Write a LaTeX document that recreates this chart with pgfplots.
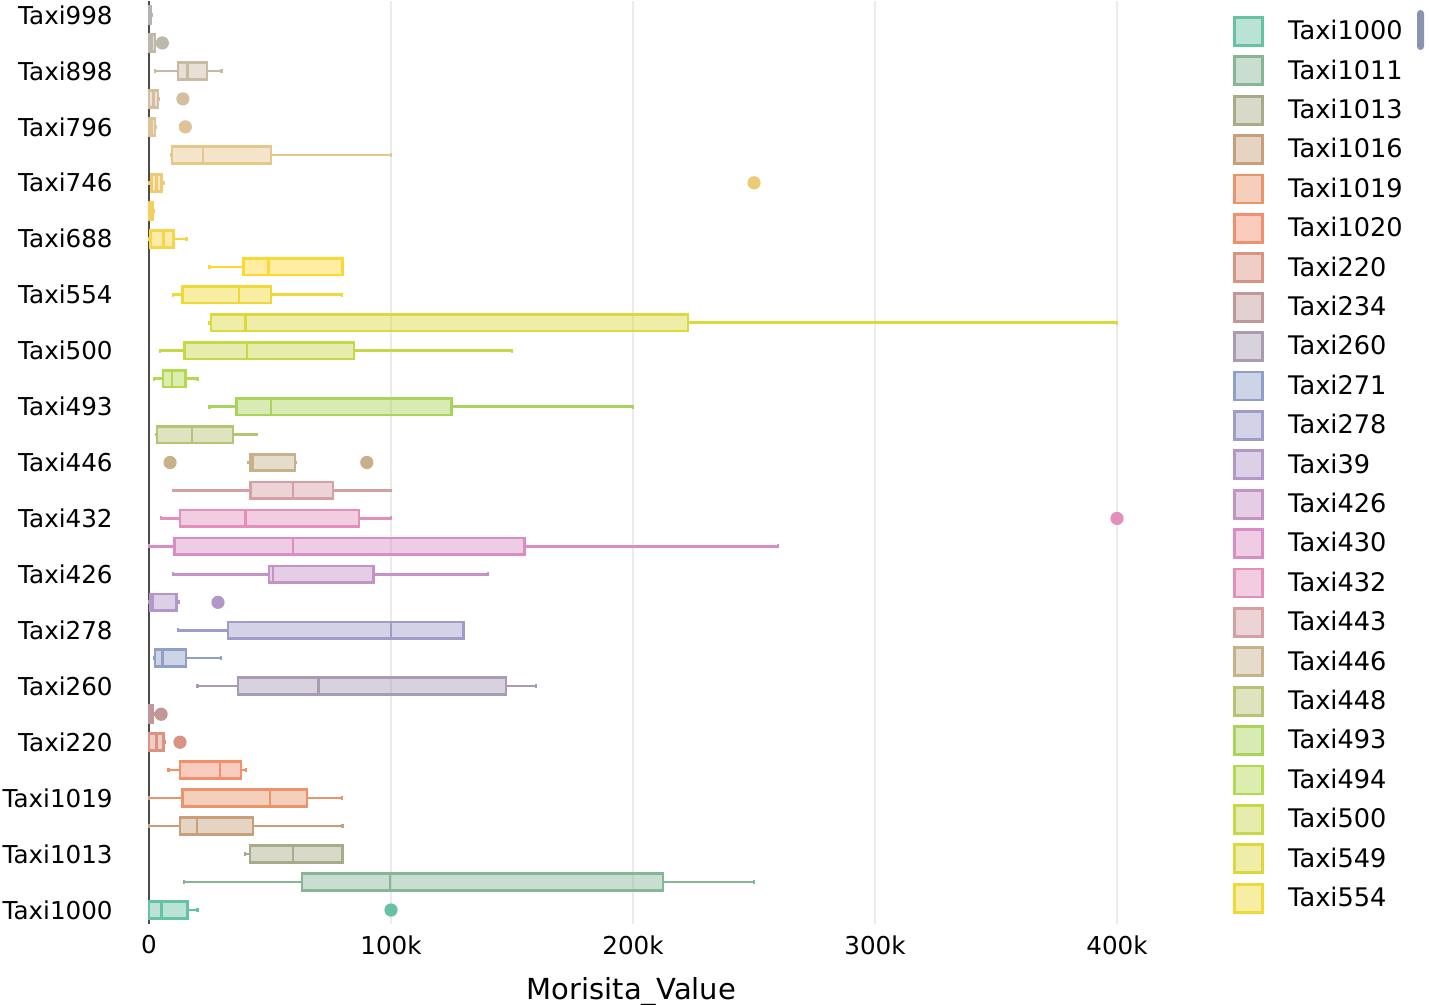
\documentclass[border=0pt]{standalone}
\usepackage{fontspec}
\setmainfont{DejaVu Sans}
\usepackage{pgfplots}
\pgfplotsset{compat=1.18}
\usepgfplotslibrary{statistics}

% Set2 palette, stretched over 33 traces
\definecolor{s0}{HTML}{66C2A5}
\definecolor{s1}{HTML}{FC8D62}
\definecolor{s2}{HTML}{8DA0CB}
\definecolor{s3}{HTML}{E78AC3}
\definecolor{s4}{HTML}{A6D854}
\definecolor{s5}{HTML}{FFD92F}
\definecolor{s6}{HTML}{E5C494}
\definecolor{s7}{HTML}{B3B3B3}
\colorlet{c0}{s0}
\colorlet{c1}{s1!21.9!s0}
\colorlet{c2}{s1!43.8!s0}
\colorlet{c3}{s1!65.6!s0}
\colorlet{c4}{s1!87.5!s0}
\colorlet{c5}{s2!9.4!s1}
\colorlet{c6}{s2!31.3!s1}
\colorlet{c7}{s2!53.1!s1}
\colorlet{c8}{s2!75!s1}
\colorlet{c9}{s2!96.9!s1}
\colorlet{c10}{s3!18.8!s2}
\colorlet{c11}{s3!40.6!s2}
\colorlet{c12}{s3!62.5!s2}
\colorlet{c13}{s3!84.4!s2}
\colorlet{c14}{s4!6.3!s3}
\colorlet{c15}{s4!28.1!s3}
\colorlet{c16}{s4!50!s3}
\colorlet{c17}{s4!71.9!s3}
\colorlet{c18}{s4!93.8!s3}
\colorlet{c19}{s5!15.6!s4}
\colorlet{c20}{s5!37.5!s4}
\colorlet{c21}{s5!59.4!s4}
\colorlet{c22}{s5!81.3!s4}
\colorlet{c23}{s6!3.1!s5}
\colorlet{c24}{s6!25!s5}
\colorlet{c25}{s6!46.9!s5}
\colorlet{c26}{s6!68.8!s5}
\colorlet{c27}{s6!90.6!s5}
\colorlet{c28}{s7!12.5!s6}
\colorlet{c29}{s7!34.4!s6}
\colorlet{c30}{s7!56.3!s6}
\colorlet{c31}{s7!78.1!s6}
\colorlet{c32}{s7}
\definecolor{scrollc}{HTML}{8A93B0}

\pgfplotsset{
  bx/.style={color=#1, line width=1.4pt, mark=*, mark size=3pt,
    mark options={line width=0.6pt},
    boxplot/every box/.style={fill=#1, fill opacity=0.45, line width=1.4pt},
    boxplot/every whisker/.style={line width=1.2pt},
    boxplot/every median/.style={line width=1.4pt}},
}

\begin{document}
\begin{tikzpicture}
\useasboundingbox (-71pt,-40.5pt) rectangle (643.5pt,462pt);
\begin{axis}[
    at={(0,0)}, anchor=south west,
    scale only axis,
    width=489.93pt, height=461.5pt,
    xmin=-2900, xmax=402000,
    ymin=-0.5, ymax=32.5,
    clip=false,
    scaled x ticks=false,
    axis line style={draw=none},
    major tick style={draw=none},
    xtick={100000,200000,300000,400000},
    xticklabels={100k,200k,300k,400k},
    extra x ticks={0},
    extra x tick labels={0},
    extra x tick style={major grid style={color=black!70, line width=1.2pt}},
    xmajorgrids,
    major grid style={color=black!8, line width=1pt},
    ytick={0,2,...,32},
    yticklabels={Taxi1000,Taxi1013,Taxi1019,Taxi220,Taxi260,Taxi278,Taxi426,Taxi432,Taxi446,Taxi493,Taxi500,Taxi554,Taxi688,Taxi746,Taxi796,Taxi898,Taxi998},
    tick label style={font=\fontsize{12.3}{14}\selectfont},
    xticklabel style={anchor=north, inner sep=0pt, yshift=-5.5pt},
    yticklabel style={anchor=east, inner sep=0pt, xshift=-14.5pt},
    xlabel={Morisita\_Value},
    xlabel style={at={(axis description cs:0,0)}, anchor=base,
      xshift=244.75pt, yshift=-38pt, font=\fontsize{14.5}{17}\selectfont},
    boxplot/draw direction=x,
    boxplot/box extend=0.6,
    boxplot/whisker extend=0.14,
    legend image code/.code={\draw[#1, line width=1.4pt, fill, fill opacity=0.45] (0pt,-7pt) rectangle (14pt,7pt);},
    legend style={at={(0,0)}, anchor=north west, xshift=545.5pt, yshift=456.35pt,
      draw=none, fill=none, inner sep=0pt, row sep=0pt, column sep=12pt,
      font=\fontsize{12.8}{14}\selectfont,
      nodes={inner sep=0pt, minimum height=19.7pt}},
    legend cell align=left,
  ]
\addplot[bx=c0, boxplot prepared={lower whisker=0, lower quartile=0, median=5000, upper quartile=16000, upper whisker=20000, draw position=0}] coordinates {(0,100000)};
\addplot[bx=c1, boxplot prepared={lower whisker=14500, lower quartile=63200, median=99600, upper quartile=212400, upper whisker=250000, draw position=1}] coordinates {};
\addplot[bx=c2, boxplot prepared={lower whisker=39700, lower quartile=41700, median=59500, upper quartile=80000, upper whisker=80200, draw position=2}] coordinates {};
\addplot[bx=c3, boxplot prepared={lower whisker=0, lower quartile=12800, median=19800, upper quartile=43000, upper whisker=80000, draw position=3}] coordinates {};
\addplot[bx=c4, boxplot prepared={lower whisker=0, lower quartile=14000, median=50000, upper quartile=65300, upper whisker=79800, draw position=4}] coordinates {};
\addplot[bx=c5, boxplot prepared={lower whisker=8000, lower quartile=12800, median=29300, upper quartile=38000, upper whisker=40000, draw position=5}] coordinates {};
\addplot[bx=c6, boxplot prepared={lower whisker=0, lower quartile=0, median=3000, upper quartile=6000, upper whisker=6500, draw position=6}] coordinates {(0,12800)};
\addplot[bx=c7, boxplot prepared={lower whisker=0, lower quartile=0, median=500, upper quartile=1500, upper whisker=2000, draw position=7}] coordinates {(0,5000)};
\addplot[bx=c8, boxplot prepared={lower whisker=20000, lower quartile=36800, median=70000, upper quartile=147500, upper whisker=160000, draw position=8}] coordinates {};
\addplot[bx=c9, boxplot prepared={lower whisker=2000, lower quartile=2500, median=5500, upper quartile=15300, upper whisker=29800, draw position=9}] coordinates {};
\addplot[bx=c10, boxplot prepared={lower whisker=12000, lower quartile=32600, median=100000, upper quartile=130000, upper whisker=130000, draw position=10}] coordinates {};
\addplot[bx=c11, boxplot prepared={lower whisker=0, lower quartile=500, median=1500, upper quartile=11500, upper whisker=12500, draw position=11}] coordinates {(0,28500)};
\addplot[bx=c12, boxplot prepared={lower whisker=10000, lower quartile=49600, median=51200, upper quartile=92600, upper whisker=140000, draw position=12}] coordinates {};
\addplot[bx=c13, boxplot prepared={lower whisker=0, lower quartile=10500, median=59500, upper quartile=155000, upper whisker=260000, draw position=13}] coordinates {};
\addplot[bx=c14, boxplot prepared={lower whisker=5000, lower quartile=12800, median=40000, upper quartile=86800, upper whisker=100000, draw position=14}] coordinates {(0,400000)};
\addplot[bx=c15, boxplot prepared={lower whisker=10000, lower quartile=42000, median=59500, upper quartile=76000, upper whisker=100000, draw position=15}] coordinates {};
\addplot[bx=c16, boxplot prepared={lower whisker=41000, lower quartile=42000, median=43000, upper quartile=60300, upper whisker=60500, draw position=16}] coordinates {(0,8700) (0,90000)};
\addplot[bx=c17, boxplot prepared={lower whisker=3000, lower quartile=3300, median=17800, upper quartile=34700, upper whisker=44600, draw position=17}] coordinates {};
\addplot[bx=c18, boxplot prepared={lower whisker=25000, lower quartile=36000, median=50400, upper quartile=125000, upper whisker=200000, draw position=18}] coordinates {};
\addplot[bx=c19, boxplot prepared={lower whisker=2000, lower quartile=5800, median=9500, upper quartile=15000, upper whisker=20000, draw position=19}] coordinates {};
\addplot[bx=c20, boxplot prepared={lower whisker=4500, lower quartile=14500, median=40500, upper quartile=84700, upper whisker=150000, draw position=20}] coordinates {};
\addplot[bx=c21, boxplot prepared={lower whisker=25000, lower quartile=25600, median=40000, upper quartile=222700, upper whisker=400000, draw position=21}] coordinates {};
\addplot[bx=c22, boxplot prepared={lower whisker=10000, lower quartile=14000, median=37200, upper quartile=50400, upper whisker=79800, draw position=22}] coordinates {};
\addplot[bx=c23, boxplot prepared={lower whisker=25000, lower quartile=39000, median=49500, upper quartile=80000, upper whisker=80000, draw position=23}] coordinates {};
\addplot[bx=c24, boxplot prepared={lower whisker=0, lower quartile=500, median=6000, upper quartile=10000, upper whisker=15500, draw position=24}] coordinates {};
\addplot[bx=c25, boxplot prepared={lower whisker=0, lower quartile=0, median=500, upper quartile=1500, upper whisker=2000, draw position=25}] coordinates {};
\addplot[bx=c26, boxplot prepared={lower whisker=0, lower quartile=1000, median=3000, upper quartile=5000, upper whisker=6000, draw position=26}] coordinates {(0,250000)};
\addplot[bx=c27, boxplot prepared={lower whisker=9000, lower quartile=9500, median=22300, upper quartile=50400, upper whisker=100000, draw position=27}] coordinates {};
\addplot[bx=c28, boxplot prepared={lower whisker=0, lower quartile=0, median=1000, upper quartile=2500, upper whisker=3000, draw position=28}] coordinates {(0,15000)};
\addplot[bx=c29, boxplot prepared={lower whisker=0, lower quartile=0, median=2000, upper quartile=3700, upper whisker=4000, draw position=29}] coordinates {(0,14000)};
\addplot[bx=c30, boxplot prepared={lower whisker=2500, lower quartile=12000, median=16000, upper quartile=24000, upper whisker=30000, draw position=30}] coordinates {};
\addplot[bx=c31, boxplot prepared={lower whisker=0, lower quartile=0, median=1000, upper quartile=2500, upper whisker=3000, draw position=31}] coordinates {(0,5500)};
\addplot[bx=c32, boxplot prepared={lower whisker=0, lower quartile=0, median=200, upper quartile=500, upper whisker=1000, draw position=32}] coordinates {};
\legend{Taxi1000,Taxi1011,Taxi1013,Taxi1016,Taxi1019,Taxi1020,Taxi220,Taxi234,Taxi260,Taxi271,Taxi278,Taxi39,Taxi426,Taxi430,Taxi432,Taxi443,Taxi446,Taxi448,Taxi493,Taxi494,Taxi500,Taxi549,Taxi554}
\end{axis}
\fill[scrollc, rounded corners=1.75pt] (637.5pt,437pt) rectangle (641pt,457pt);
\end{tikzpicture}
\end{document}
